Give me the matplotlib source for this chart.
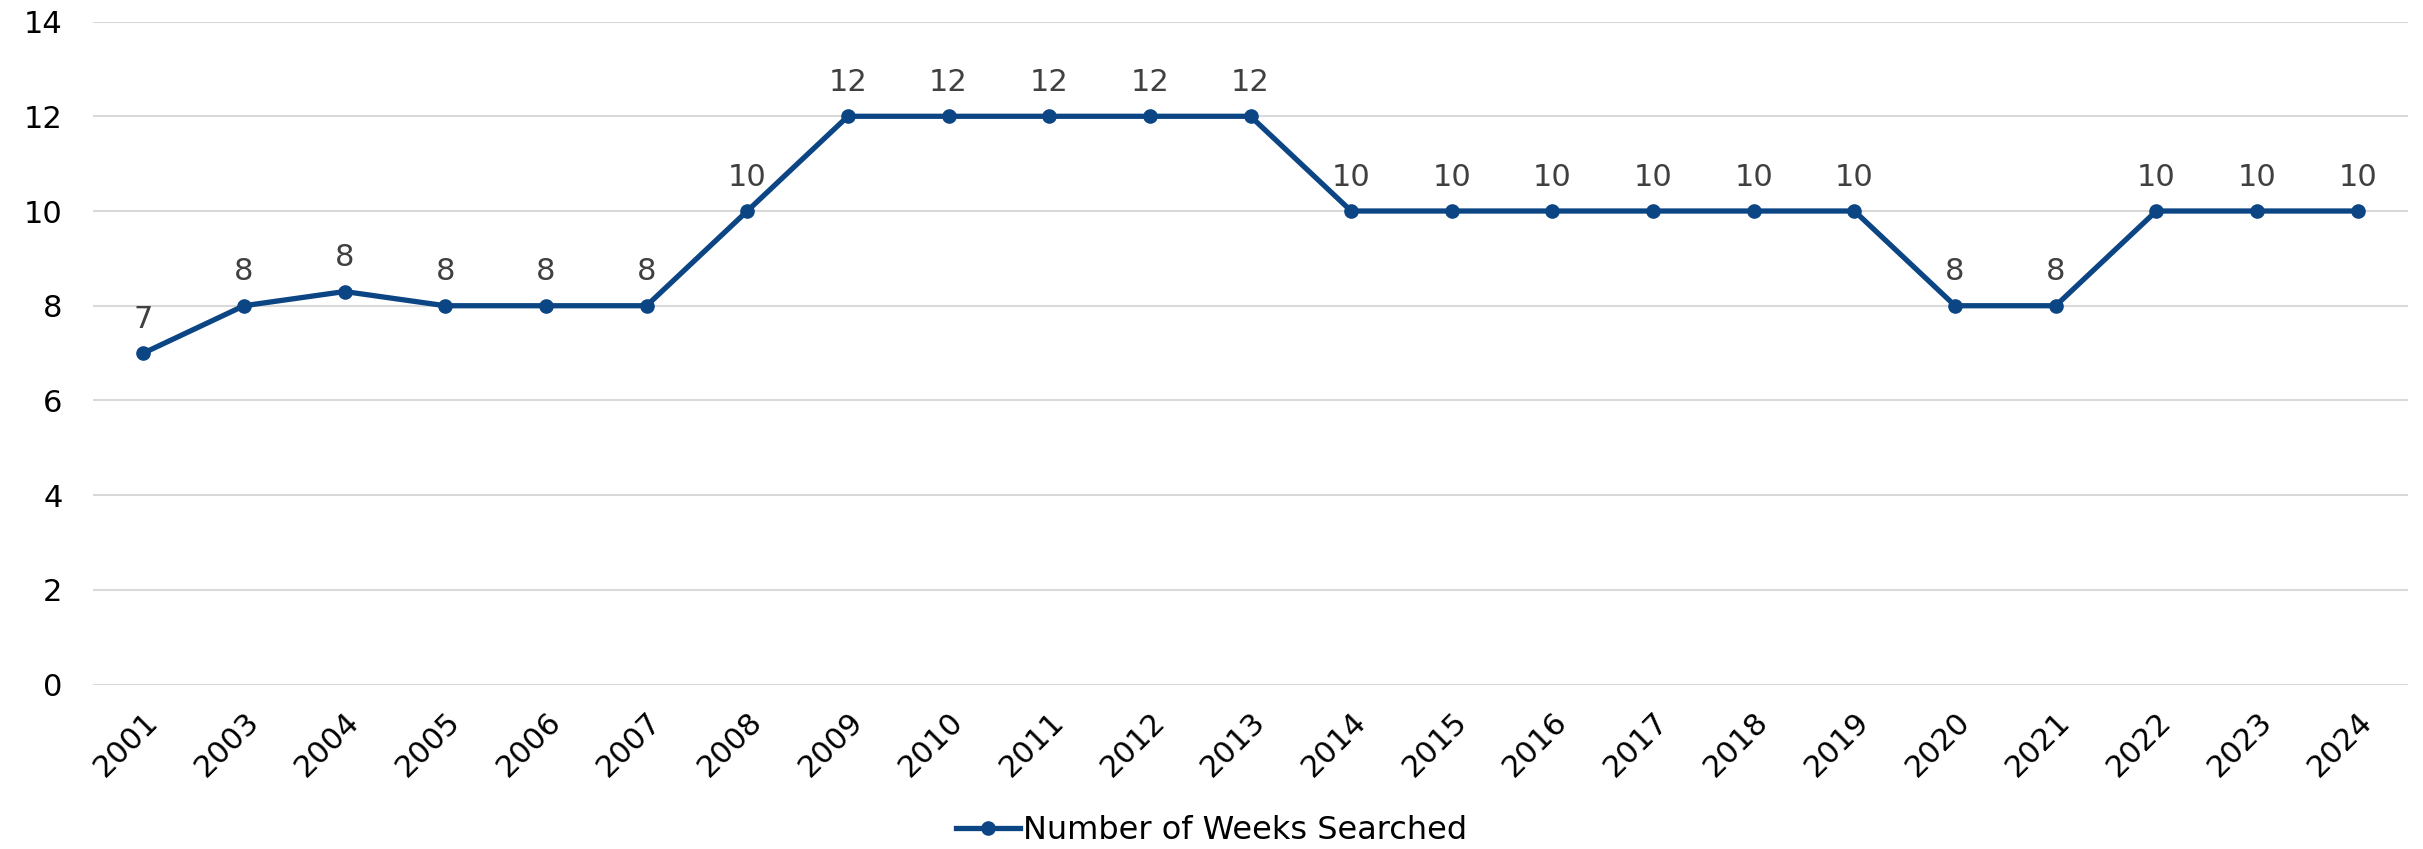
import matplotlib
matplotlib.use("Agg")
import matplotlib.pyplot as plt

years = ["2001", "2003", "2004", "2005", "2006", "2007", "2008", "2009", "2010", "2011",
         "2012", "2013", "2014", "2015", "2016", "2017", "2018", "2019", "2020", "2021",
         "2022", "2023", "2024"]
weeks = [7, 8, 8.3, 8, 8, 8, 10, 12, 12, 12, 12, 12, 10, 10, 10, 10, 10, 10, 8, 8, 10, 10, 10]
series_name = "Number of Weeks Searched"

plt.rcParams['font.family'] = ['DejaVu Sans']

fig = plt.figure(figsize=(24.23, 8.49), dpi=100)
ax = fig.add_axes([0.0384, 0.1936, 0.9554, 0.781])

x = list(range(len(years)))
ax.plot(x, weeks, color="#0B4584", linewidth=3.8, marker="o", markersize=9.5,
        label=series_name, zorder=3)

for xi, v in zip(x, weeks):
    ax.annotate(f"{v:.0f}", (xi, v), xytext=(0, 14), textcoords="offset points",
                ha="center", va="bottom", fontsize=22, color="#404040")

ax.set_xlim(-0.5, len(years) - 0.5)
ax.set_ylim(0, 14)
ax.set_yticks(range(0, 15, 2))
ax.set_xticks(x)
ax.set_xticklabels(years, rotation=45, ha="right", rotation_mode="anchor")
ax.tick_params(axis="both", length=0, labelsize=22, colors="black")
ax.tick_params(axis="x", pad=16)
ax.tick_params(axis="y", pad=22)
ax.grid(axis="y", color="#D9D9D9", linewidth=1.5)
ax.set_axisbelow(True)
for s in ax.spines.values():
    s.set_visible(False)

fig.legend(loc="lower center", bbox_to_anchor=(0.5, -0.03), frameon=False,
           fontsize=23, handlelength=2.0, handletextpad=0.1)

fig.savefig("out.png", dpi=100)
